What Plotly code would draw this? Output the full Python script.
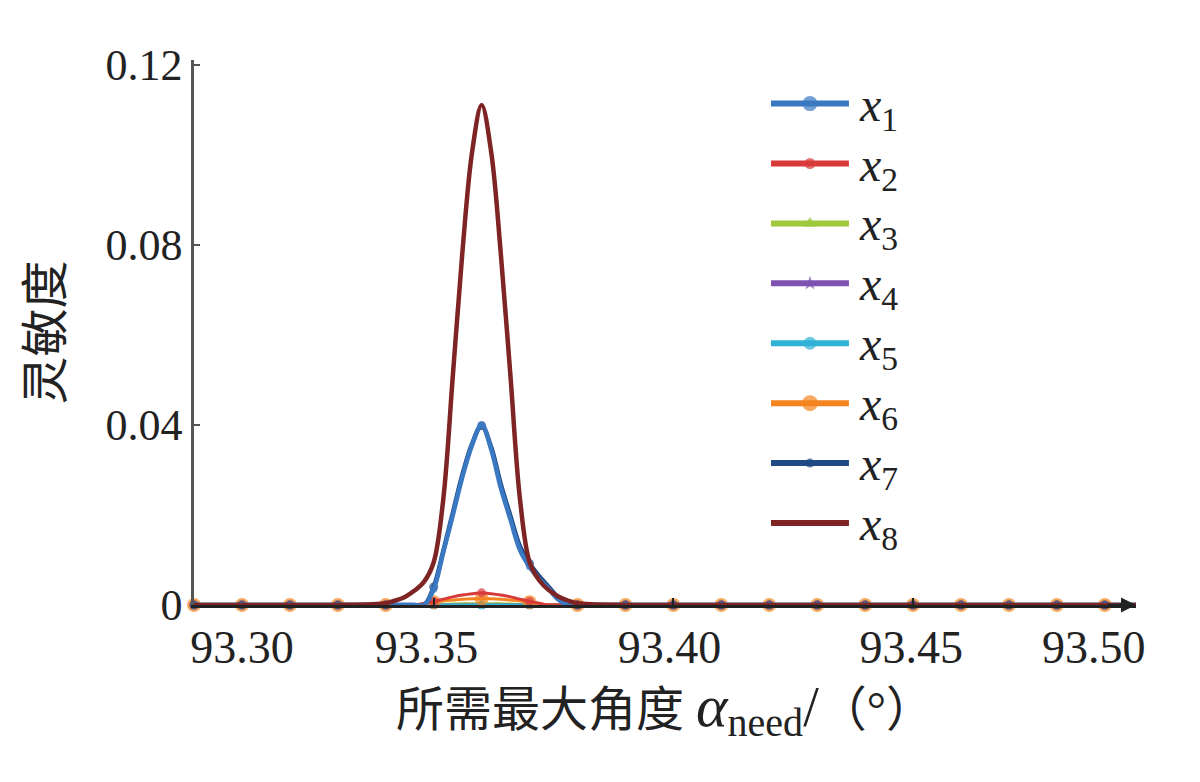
import plotly.graph_objects as go

# ---------------- data ----------------
angle = [93.30, 93.31, 93.32, 93.33, 93.34,
         93.342, 93.344, 93.346, 93.348, 93.350, 93.352, 93.354, 93.356, 93.358, 93.360,
         93.362, 93.364, 93.366, 93.368, 93.370, 93.372, 93.374, 93.376, 93.378, 93.380,
         93.39, 93.40, 93.41, 93.42, 93.43, 93.44, 93.45, 93.46, 93.47, 93.48, 93.49, 93.50]

_z5 = [0, 0, 0, 0, 0]
_z12 = [0] * 12
x1 = _z5 + [0, 0, 0, 0, 0.0035, 0.0117, 0.020, 0.0285, 0.0355, 0.040,
            0.0345, 0.026, 0.019, 0.0122, 0.0085, 0.0058, 0.0036, 0.0012, 0, 0] + _z12
x2 = _z5 + [0, 0, 0, 0.0004, 0.0008, 0.0013, 0.0018, 0.0022, 0.0025, 0.0027,
            0.0025, 0.0022, 0.0018, 0.0013, 0.0008, 0.0004, 0, 0, 0, 0] + _z12
x3 = _z5 + [0, 0, 0, 0, 0, 0.0001, 0.0002, 0.0003, 0.0003, 0.0003,
            0.0003, 0.0003, 0.0002, 0.0001, 0, 0, 0, 0, 0, 0] + _z12
x4 = [0] * 37
x5 = [0] * 37
x6 = _z5 + [0, 0, 0, 0.0003, 0.0006, 0.0009, 0.0011, 0.0013, 0.0014, 0.0014,
            0.0014, 0.0013, 0.0011, 0.0009, 0.0006, 0.0003, 0, 0, 0, 0] + _z12
x7 = _z5 + [0, 0, 0, 0, 0.004, 0.012, 0.0205, 0.029, 0.0358, 0.0398,
            0.035, 0.0268, 0.0198, 0.013, 0.0092, 0.0064, 0.004, 0.0016, 0, 0] + _z12
x8 = [0, 0, 0, 0, 0.0004] + [0.001, 0.0018, 0.0032, 0.0052, 0.0095, 0.0235, 0.051, 0.0785, 0.1005, 0.111,
                             0.1005, 0.078, 0.051, 0.0235, 0.0095, 0.0055, 0.0033, 0.0019, 0.001, 0.0004] + _z12

series_names = ["x1", "x2", "x3", "x4", "x5", "x6", "x7", "x8"]
series_labels = ["<i>x</i><sub>1</sub>", "<i>x</i><sub>2</sub>", "<i>x</i><sub>3</sub>",
                 "<i>x</i><sub>4</sub>", "<i>x</i><sub>5</sub>", "<i>x</i><sub>6</sub>",
                 "<i>x</i><sub>7</sub>", "<i>x</i><sub>8</sub>"]
series_values = {"x1": x1, "x2": x2, "x3": x3, "x4": x4, "x5": x5, "x6": x6, "x7": x7, "x8": x8}

y_tickvals = [0, 0.04, 0.08, 0.12]
y_ticktext = ["0", "0.04", "0.08", "0.12"]
x_ticktext = ["93.30", "93.35", "93.40", "93.45", "93.50"]
x_label_pos = [93.310, 93.3485, 93.3992, 93.4496, 93.4877]   # where labels sit in the source
x_tick_marks = [93.35, 93.40, 93.45]

# ---------------- style ----------------
colors = {"x1": "#3a78c2", "x2": "#d83a3a", "x3": "#a0c83c", "x4": "#7e52b0",
          "x5": "#2fb2d6", "x6": "#f3841f", "x7": "#1f4a86", "x8": "#7e2424"}
symbols = {"x1": "circle", "x2": "circle", "x3": "triangle-up", "x4": "star",
           "x5": "circle", "x6": "circle", "x7": "circle", "x8": "circle"}
msize = {"x1": 7, "x2": 9, "x3": 10, "x4": 8, "x5": 9, "x6": 14, "x7": 9, "x8": 0}
lwidth = {"x1": 4.5, "x2": 3, "x3": 3, "x4": 3, "x5": 3, "x6": 3, "x7": 4.5, "x8": 4.5}
draw_order = ["x3", "x4", "x5", "x6", "x2", "x7", "x1", "x8"]

SERIF = "Liberation Serif, Times New Roman, Noto Sans CJK SC, serif"

def marker_sizes(size):
    out = []
    for a in angle:
        k = round(a * 100)
        out.append(size if abs(a * 100 - k) < 1e-6 and a < 93.495 else 0)
    return out

fig = go.Figure()
for name in draw_order:
    fig.add_trace(go.Scatter(
        x=angle, y=series_values[name], mode="lines+markers",
        line=dict(color=colors[name], width=lwidth[name], shape="spline", smoothing=1.0),
        marker=dict(color=colors[name], symbol=symbols[name], size=marker_sizes(msize[name]),
                    line=dict(width=0)),
        cliponaxis=False, showlegend=False, name=name, hoverinfo="skip"))

# custom legend drawn on a secondary axis
leg_msize = {"x1": 15, "x2": 11, "x3": 13, "x4": 11, "x5": 13, "x6": 16, "x7": 9, "x8": 0}
for i, name in enumerate(series_names):
    fig.add_trace(go.Scatter(
        x=[0, 0.5, 1], y=[i + 1] * 3, mode="lines+markers", xaxis="x2", yaxis="y2",
        line=dict(color=colors[name], width=6),
        marker=dict(color=colors[name], symbol=symbols[name],
                    size=[0, leg_msize[name], 0], line=dict(width=0)),
        showlegend=False, hoverinfo="skip", cliponaxis=False))
    fig.add_annotation(x=1, y=i + 1, xref="x2", yref="y2", text=series_labels[i],
                       showarrow=False, xanchor="left", yanchor="middle",
                       xshift=8, yshift=-4,
                       font=dict(family=SERIF, size=48, color="#222"))

# axis arrow
fig.add_annotation(x=1, y=0, xref="x domain", yref="y", ax=-30, ay=0, axref="pixel",
                   showarrow=True, arrowhead=2, arrowsize=1.2, arrowwidth=2.5,
                   arrowcolor="#222", text="")

x_title = ("所需最大角度 <span style='font-size:60px'><i>α</i></span>"
           "<sub><span style='font-size:40px'>need</span></sub>"
           "<span style='font-size:56px'>/</span>（°）")

fig.update_layout(
    width=1200, height=782, autosize=False,
    margin=dict(l=186, r=72, t=52, b=185),
    paper_bgcolor="white", plot_bgcolor="white",
    xaxis=dict(range=[93.30, 93.4965], tickmode="array", tickvals=x_label_pos,
               ticktext=x_ticktext, ticks="", showgrid=False, zeroline=False,
               showline=True, linecolor="#222", linewidth=2.5, automargin=False,
               tickfont=dict(family=SERIF, size=46, color="#222"),
               minor=dict(tickmode="array", tickvals=x_tick_marks, ticks="inside",
                          ticklen=7, tickwidth=2, tickcolor="#222", showgrid=False),
               title=dict(text=x_title,
                          font=dict(family=SERIF, size=48, color="#222"), standoff=14)),
    yaxis=dict(range=[0, 0.121], tickmode="array", tickvals=y_tickvals, ticktext=y_ticktext,
               ticks="inside", ticklen=6, tickwidth=2, tickcolor="#555", automargin=False,
               showgrid=False, zeroline=False, showline=True, linecolor="#555", linewidth=2.5,
               tickfont=dict(family=SERIF, size=44, color="#222"),
               title=dict(text="灵敏度", font=dict(family=SERIF, size=48, color="#222"),
                          standoff=28)),
    xaxis2=dict(domain=[0.6125, 0.6953], range=[0, 1], visible=False, fixedrange=True),
    yaxis2=dict(domain=[0.1175, 0.953], range=[8.3, 0.7], visible=False, fixedrange=True,
                anchor="x2"),
    showlegend=False,
)
fig.update_layout(xaxis2_anchor="y2")

fig.write_html("out.html")
